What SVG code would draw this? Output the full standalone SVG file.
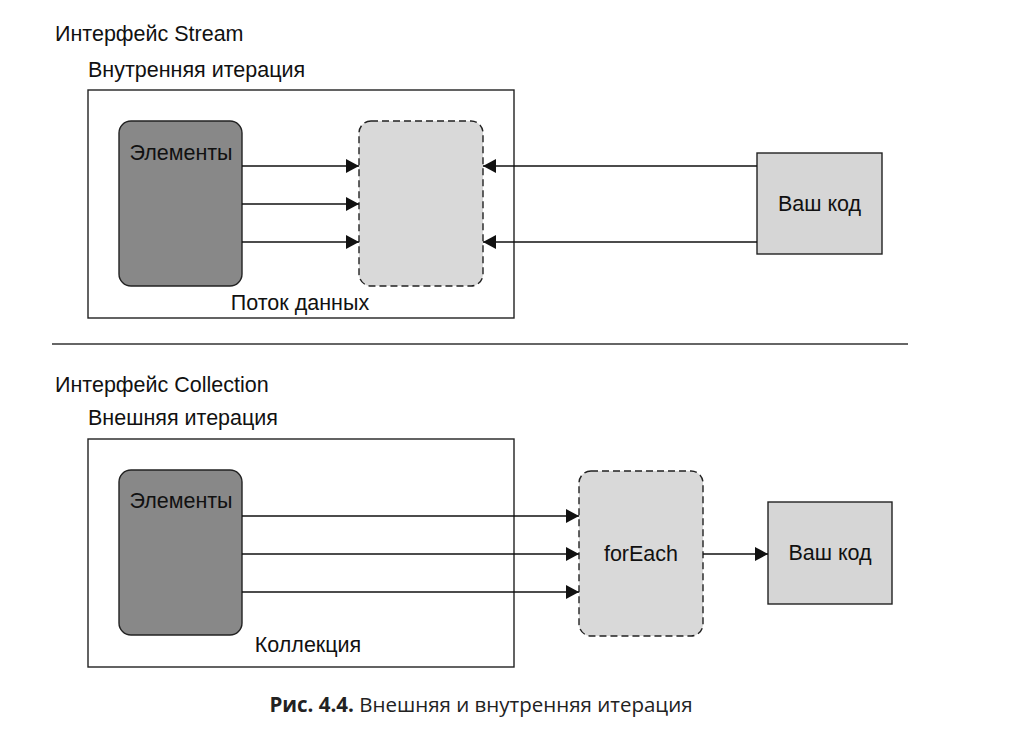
<svg xmlns="http://www.w3.org/2000/svg" width="1029" height="741" viewBox="0 0 1029 741">
<style>
text{font-family:"Liberation Sans",Arial,sans-serif;font-size:21.5px;fill:#111}
.frame{fill:none;stroke:#222;stroke-width:1.4}
.elem{fill:#888;stroke:#222;stroke-width:1.4}
.dash{fill:#d9d9d9;stroke:#222;stroke-width:1.4;stroke-dasharray:7 4}
.code{fill:#d6d6d6;stroke:#222;stroke-width:1.4}
.conn line{stroke:#111;stroke-width:1.4;marker-end:url(#ah)}
.cap{font-family:"Open Sans","Noto Sans",sans-serif;font-size:20.5px;fill:#222}
</style>
<defs>
<marker id="ah" markerWidth="13" markerHeight="14" refX="13" refY="7" orient="auto" markerUnits="userSpaceOnUse">
<path d="M0,0 L13,7 L0,14 Z" fill="#111"/>
</marker>
</defs>
<rect width="1029" height="741" fill="#fff"/>
<text x="55" y="41">Интерфейс Stream</text>
<text x="88" y="77">Внутренняя итерация</text>
<g id="stream-frame">
<rect class="frame" x="88" y="90" width="426" height="228"/>
<text x="300" y="310" text-anchor="middle">Поток данных</text>
</g>
<g id="stream-elements">
<rect class="elem" x="119" y="121" width="123" height="165" rx="12"/>
<text x="181" y="160" text-anchor="middle">Элементы</text>
</g>
<g id="stream-pipe">
<rect class="dash" x="359" y="121" width="124" height="165" rx="12"/>
</g>
<g id="stream-code">
<rect class="code" x="757" y="153" width="125" height="101"/>
<text x="819.5" y="211" text-anchor="middle">Ваш код</text>
</g>
<line x1="52" y1="344" x2="908" y2="344" stroke="#333" stroke-width="1.4"/>
<text x="55" y="392">Интерфейс Collection</text>
<text x="88" y="425">Внешняя итерация</text>
<g id="coll-frame">
<rect class="frame" x="88" y="439" width="426" height="228"/>
<text x="308" y="652" text-anchor="middle">Коллекция</text>
</g>
<g id="coll-elements">
<rect class="elem" x="119" y="470" width="123" height="165" rx="12"/>
<text x="181" y="508" text-anchor="middle">Элементы</text>
</g>
<g id="coll-foreach">
<rect class="dash" x="579" y="471" width="124" height="165" rx="12"/>
<text x="641" y="561" text-anchor="middle">forEach</text>
</g>
<g id="coll-code">
<rect class="code" x="768" y="502" width="124" height="102"/>
<text x="830" y="560" text-anchor="middle">Ваш код</text>
</g>
<g id="connectors" class="conn">
<line x1="242" y1="166" x2="359" y2="166"/>
<line x1="242" y1="204" x2="359" y2="204"/>
<line x1="242" y1="242" x2="359" y2="242"/>
<line x1="757" y1="166" x2="483" y2="166"/>
<line x1="757" y1="242" x2="483" y2="242"/>
<line x1="242" y1="516" x2="579" y2="516"/>
<line x1="242" y1="554" x2="579" y2="554"/>
<line x1="242" y1="592" x2="579" y2="592"/>
<line x1="703" y1="554" x2="768" y2="554"/>
</g>
<text class="cap" x="481" y="712" text-anchor="middle"><tspan font-weight="bold">Рис. 4.4.</tspan> Внешняя и внутренняя итерация</text>
</svg>
